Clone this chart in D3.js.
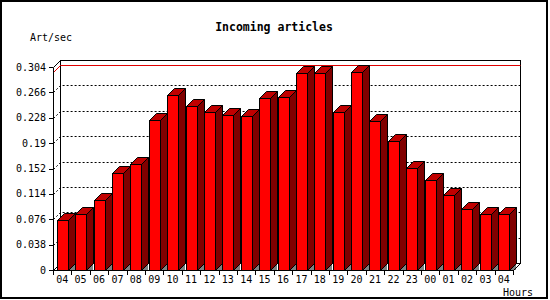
<!DOCTYPE html>
<html>
<head>
<meta charset="utf-8">
<script src="https://cdn.jsdelivr.net/npm/d3@7"></script>
<style>
  body { margin: 0; background: #fff; }
  text { font-family: "DejaVu Sans Mono", "Liberation Mono", monospace; }
</style>
</head>
<body>
<script>
// Chart data
var hours = ["04", "05", "06", "07", "08", "09", "10", "11", "12", "13", "14", "15", "16",
             "17", "18", "19", "20", "21", "22", "23", "00", "01", "02", "03", "04"];
var artPerSec = [0.075, 0.084, 0.105, 0.145, 0.158, 0.225, 0.262, 0.246, 0.236, 0.232, 0.231, 0.258, 0.259,
                 0.295, 0.295, 0.237, 0.2965, 0.223, 0.193, 0.153, 0.135, 0.112, 0.091, 0.084, 0.084];
var tickValues = [0, 0.038, 0.076, 0.114, 0.152, 0.19, 0.228, 0.266, 0.304];
var tickLabels = ["0", "0.038", "0.076", "0.114", "0.152", "0.19", "0.228", "0.266", "0.304"];

// Layout ("top" is a reserved window property, so use plot* names)
var svgWidth = 550;
var svgHeight = 300;
var depth = 7;          // 3d offset of the back plane
var plotLeft = 53, plotRight = 513, plotBottom = 270, plotTop = 67;

var svg = d3.select("body")
  .append("svg")
  .attr("width", svgWidth)
  .attr("height", svgHeight);

// Outer frame
svg.append("rect")
  .attr("x", 1).attr("y", 1)
  .attr("width", 546).attr("height", 297)
  .attr("fill", "none")
  .attr("stroke", "#000")
  .attr("stroke-width", 2);

// Scales (front plane)
var xScale = d3.scaleBand()
  .domain(d3.range(hours.length))
  .range([plotLeft, plotRight]);
var yScale = d3.scaleLinear()
  .domain([0, 0.304])
  .range([plotBottom, plotTop]);

function px(v) { return Math.round(v) + 0.5; }

// Back plane frame
var g = svg.append("g");
g.append("rect")
  .attr("x", px(plotLeft + depth)).attr("y", px(plotTop - depth))
  .attr("width", plotRight - plotLeft).attr("height", plotBottom - plotTop)
  .attr("fill", "none")
  .attr("stroke", "#000");

// Dotted grid lines on the back plane and their diagonal connectors
var gridTicks = tickValues.slice(1, -1);
g.selectAll(".grid")
  .data(gridTicks)
  .enter()
  .append("path")
  .attr("class", "grid")
  .attr("d", function(d) {
    var y = px(yScale(d));
    return "M" + px(plotLeft) + "," + y + "L" + px(plotLeft + depth) + "," + (y - depth) +
           "L" + px(plotRight + depth) + "," + (y - depth);
  })
  .attr("fill", "none")
  .attr("stroke", "#000")
  .attr("stroke-dasharray", "2,2");

// Red line at the maximum value
var maxVal = d3.max(artPerSec);
var yMax = px(yScale(maxVal));
g.append("path")
  .attr("d", "M" + px(plotLeft) + "," + yMax + "L" + px(plotLeft + depth) + "," + (yMax - depth) +
             "L" + px(plotRight + depth) + "," + (yMax - depth))
  .attr("fill", "none")
  .attr("stroke", "#e00000");

// Front y axis, top and bottom-left diagonals
g.append("path")
  .attr("d", "M" + px(plotLeft) + "," + px(plotBottom) + "L" + px(plotLeft) + "," + px(plotTop) +
             "L" + px(plotLeft + depth) + "," + px(plotTop - depth))
  .attr("fill", "none")
  .attr("stroke", "#000");
g.append("path")
  .attr("d", "M" + px(plotLeft) + "," + px(plotBottom) + "L" + px(plotLeft + depth) + "," + px(plotBottom - depth))
  .attr("fill", "none")
  .attr("stroke", "#000");

// Bars
var bars = svg.selectAll(".bar")
  .data(artPerSec)
  .enter()
  .append("g")
  .attr("class", "bar");

function fx(i) { return Math.round(xScale(i) + 3.7); }
var faceW = 11;

// grey floor triangle under the side face
bars.append("path")
  .attr("d", function(d, i) {
    var x = fx(i);
    return "M" + (x + faceW) + "," + plotBottom + "L" + (x + faceW + depth) + "," + plotBottom +
           "L" + (x + faceW + depth) + "," + (plotBottom - depth) + "Z";
  })
  .attr("fill", "#808080");

bars.append("path")
  .attr("d", function(d, i) {
    var x = fx(i) + 0.5, y = Math.round(yScale(d)) + 0.5;
    return "M" + (x + faceW) + "," + y + "L" + (x + faceW + depth) + "," + (y - depth) +
           "L" + (x + faceW + depth) + "," + (plotBottom - depth + 0.5) + "L" + (x + faceW) + "," + (plotBottom + 0.5) + "Z";
  })
  .attr("fill", "#800000")
  .attr("stroke", "#000");

bars.append("path")
  .attr("d", function(d, i) {
    var x = fx(i) + 0.5, y = Math.round(yScale(d)) + 0.5;
    return "M" + x + "," + y + "L" + (x + depth) + "," + (y - depth) +
           "L" + (x + faceW + depth) + "," + (y - depth) + "L" + (x + faceW) + "," + y + "Z";
  })
  .attr("fill", "#c00000")
  .attr("stroke", "#000");

bars.append("rect")
  .attr("x", function(d, i) { return fx(i) + 0.5; })
  .attr("y", function(d) { return Math.round(yScale(d)) + 0.5; })
  .attr("width", faceW)
  .attr("height", function(d) { return plotBottom - Math.round(yScale(d)); })
  .attr("fill", "#ff0000")
  .attr("stroke", "#000");

// x axis line and ticks
svg.append("path")
  .attr("d", "M" + px(plotLeft) + "," + px(plotBottom) + "L" + px(plotRight) + "," + px(plotBottom) +
             "L" + px(plotRight + depth) + "," + px(plotBottom - depth))
  .attr("fill", "none")
  .attr("stroke", "#000");

svg.selectAll(".xtick")
  .data(d3.range(hours.length + 1))
  .enter()
  .append("line")
  .attr("x1", function(i) { return px(plotLeft + i * xScale.step()); })
  .attr("x2", function(i) { return px(plotLeft + i * xScale.step()); })
  .attr("y1", plotBottom)
  .attr("y2", plotBottom + 5)
  .attr("stroke", "#000");

svg.selectAll(".xlabel")
  .data(hours)
  .enter()
  .append("text")
  .attr("x", function(d, i) { return xScale(i) + xScale.bandwidth() / 2; })
  .attr("y", 279)
  .attr("dy", "0.35em")
  .attr("text-anchor", "middle")
  .style("font-size", "10px")
  .text(function(d) { return d; });

// y axis ticks and labels
svg.selectAll(".ytick")
  .data(tickValues)
  .enter()
  .append("line")
  .attr("x1", plotLeft - 4)
  .attr("x2", plotLeft)
  .attr("y1", function(d) { return px(yScale(d)); })
  .attr("y2", function(d) { return px(yScale(d)); })
  .attr("stroke", "#000");

svg.selectAll(".ylabel")
  .data(tickValues)
  .enter()
  .append("text")
  .attr("x", 46)
  .attr("y", function(d) { return yScale(d); })
  .attr("dy", "0.35em")
  .attr("text-anchor", "end")
  .style("font-size", "10px")
  .text(function(d, i) { return tickLabels[i]; });

// Titles
svg.append("text")
  .attr("x", 274)
  .attr("y", 27)
  .attr("dy", "0.35em")
  .attr("text-anchor", "middle")
  .style("font-size", "11.5px")
  .style("font-weight", "bold")
  .text("Incoming articles");

svg.append("text")
  .attr("x", 30)
  .attr("y", 37)
  .attr("dy", "0.35em")
  .style("font-size", "10px")
  .text("Art/sec");

svg.append("text")
  .attr("x", 533)
  .attr("y", 292)
  .attr("dy", "0.35em")
  .attr("text-anchor", "end")
  .style("font-size", "10px")
  .text("Hours");
</script>
</body>
</html>
